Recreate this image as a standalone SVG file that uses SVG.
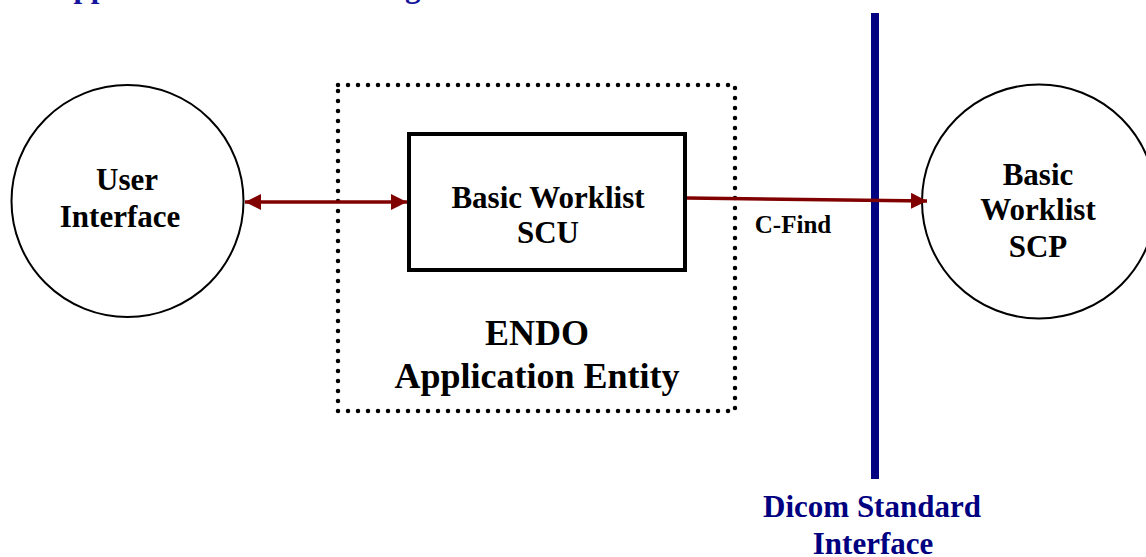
<svg xmlns="http://www.w3.org/2000/svg" width="1146" height="557" viewBox="0 0 1146 557">
<style>
text{font-family:"Liberation Serif","Times New Roman",serif;font-weight:bold;text-anchor:middle}
.lbl{font-size:31px;fill:#000}
.big{font-size:36px;fill:#000}
.navy{fill:#000080}
.node{fill:#fff;stroke:#000;stroke-width:2}
.flow{stroke:#800000;stroke-width:3.5;fill:none}
</style>
<defs>
<marker id="ah" markerUnits="userSpaceOnUse" markerWidth="18" markerHeight="18" refX="16" refY="8" orient="auto-start-reverse">
<path d="M0,0 L16,8 L0,16 Z" fill="#800000"/>
</marker>
</defs>
<rect width="1146" height="557" fill="#fff"/>
<text x="51" y="-3.5" style="font-size:31px;text-anchor:start;fill:#14149c">Application Data Flow Diagram</text>
<g id="endo-ae">
<rect x="338" y="85" width="397" height="326" fill="none" stroke="#000" stroke-width="4.5" stroke-linecap="round" stroke-dasharray="0 10"/>
<text class="big" x="537" y="345">ENDO</text>
<text class="big" x="537" y="388">Application Entity</text>
</g>
<g id="user-interface">
<circle class="node" cx="127.5" cy="201" r="116"/>
<text class="lbl" x="127" y="190">User</text>
<text class="lbl" x="120" y="227">Interface</text>
</g>
<g id="worklist-scu">
<rect x="409" y="134" width="276" height="136" fill="#fff" stroke="#000" stroke-width="4"/>
<text class="lbl" x="548" y="208">Basic Worklist</text>
<text class="lbl" x="548" y="243">SCU</text>
</g>
<g id="dicom-interface">
<rect x="871" y="13" width="8" height="466" fill="#000080"/>
<text class="lbl navy" x="872" y="517">Dicom Standard</text>
<text class="lbl navy" x="873" y="554">Interface</text>
</g>
<g id="worklist-scp">
<circle class="node" cx="1039" cy="201.5" r="117"/>
<text class="lbl" x="1038" y="185">Basic</text>
<text class="lbl" x="1038" y="220">Worklist</text>
<text class="lbl" x="1038" y="257">SCP</text>
</g>
<g id="connectors">
<line class="flow" x1="245" y1="202" x2="407" y2="202" marker-start="url(#ah)" marker-end="url(#ah)"/>
<line class="flow" x1="687" y1="198" x2="927" y2="201" marker-end="url(#ah)"/>
<text x="793" y="233" style="font-size:25px;fill:#000">C-Find</text>
</g>
</svg>
